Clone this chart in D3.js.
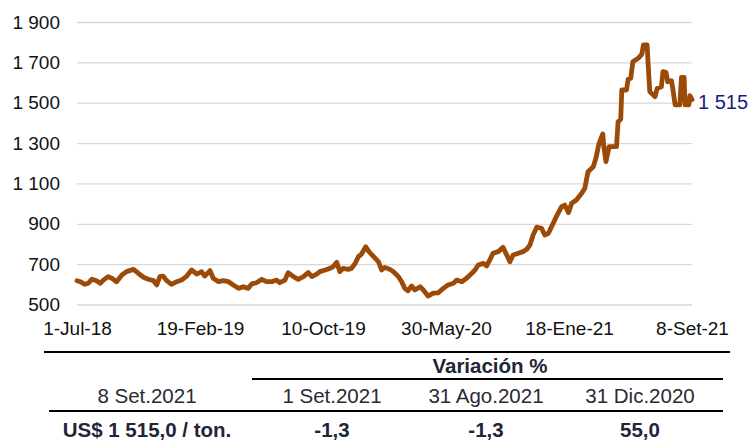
<!DOCTYPE html>
<html>
<head>
<meta charset="utf-8">
<script src="https://cdn.jsdelivr.net/npm/d3@7"></script>
<style>
  body { margin: 0; background: #fff; }
  text { font-family: "Liberation Sans", Arial, sans-serif; }
</style>
</head>
<body>
<div id="chart"></div>
<script>
const width = 755;
const height = 442;
const margin = { top: 22, right: 63, left: 77 };
const plotBottom = 304.5;

// price series (US$ / ton)
const dates = [
  "2018-07-01","2018-07-07","2018-07-16","2018-07-22","2018-07-29","2018-08-07","2018-08-14","2018-08-20",
  "2018-08-29","2018-09-05","2018-09-14","2018-09-24","2018-10-03","2018-10-16","2018-10-25","2018-11-04",
  "2018-11-13","2018-11-23","2018-11-29","2018-12-05","2018-12-11","2018-12-18","2018-12-27","2019-01-06",
  "2019-01-15","2019-01-25","2019-02-03","2019-02-13","2019-02-22","2019-02-28","2019-03-10","2019-03-16",
  "2019-03-26","2019-04-04","2019-04-14","2019-04-23","2019-05-03","2019-05-12","2019-05-21","2019-05-28",
  "2019-06-06","2019-06-16","2019-06-25","2019-07-05","2019-07-14","2019-07-20","2019-07-30","2019-08-05",
  "2019-08-15","2019-08-24","2019-09-03","2019-09-12","2019-09-19","2019-09-28","2019-10-04","2019-10-14",
  "2019-10-23","2019-10-29","2019-11-05","2019-11-11","2019-11-17","2019-11-27","2019-12-03","2019-12-10",
  "2019-12-16","2019-12-22","2019-12-30","2020-01-05","2020-01-13","2020-01-23","2020-01-29","2020-02-04",
  "2020-02-14","2020-02-20","2020-03-01","2020-03-07","2020-03-13","2020-03-19","2020-03-26","2020-04-01",
  "2020-04-11","2020-04-17","2020-04-26","2020-05-06","2020-05-15","2020-05-25","2020-06-03","2020-06-13",
  "2020-06-19","2020-06-29","2020-07-08","2020-07-18","2020-07-24","2020-07-30","2020-08-09","2020-08-15",
  "2020-08-21","2020-08-27","2020-09-06","2020-09-15","2020-09-22","2020-09-28","2020-10-04","2020-10-14",
  "2020-10-23","2020-10-30","2020-11-05","2020-11-11","2020-11-18","2020-11-27","2020-12-03","2020-12-10",
  "2020-12-16","2020-12-22","2020-12-29","2021-01-04","2021-01-10","2021-01-17","2021-01-23","2021-02-01",
  "2021-02-11","2021-02-17","2021-02-23","2021-03-05","2021-03-10","2021-03-16","2021-03-23","2021-03-25",
  "2021-03-29","2021-04-04","2021-04-18","2021-04-21","2021-04-26","2021-04-28","2021-05-07","2021-05-10",
  "2021-05-15","2021-05-19","2021-05-29","2021-06-05","2021-06-08","2021-06-15","2021-06-17","2021-06-20",
  "2021-06-30","2021-07-04","2021-07-12","2021-07-15","2021-07-21","2021-07-24","2021-07-31","2021-08-03",
  "2021-08-07","2021-08-16","2021-08-19","2021-08-24","2021-08-26","2021-09-02","2021-09-04","2021-09-08"
];
const prices = [
  618,613,600,605,625,618,605,621,
  638,630,613,646,663,674,655,635,
  625,618,597,638,641,618,600,613,
  621,641,671,651,663,641,668,630,
  613,618,613,597,580,588,580,602,
  608,625,613,613,621,608,621,658,
  638,625,638,658,638,650,663,671,
  679,687,709,663,679,674,679,704,
  737,750,786,762,740,712,671,684,
  674,663,638,613,580,568,592,572,
  588,572,542,556,558,580,597,605,
  621,613,630,655,671,696,704,691,
  721,754,762,783,745,712,745,754,
  762,774,795,844,883,878,844,853,
  886,919,955,985,993,955,1002,1018,
  1051,1076,1158,1183,1225,1299,1345,1282,
  1208,1282,1282,1406,1418,1563,1563,1616,
  1621,1703,1720,1741,1786,1786,1687,1555,
  1530,1571,1579,1654,1649,1604,1609,1563,
  1489,1489,1626,1626,1489,1489,1535,1515
];

const yTicks = [500, 700, 900, 1100, 1300, 1500, 1700, 1900];
const xTickDates = ["2018-07-01","2019-02-19","2019-10-10","2020-05-30","2021-01-18","2021-09-08"];
const xTickLabels = ["1-Jul-18","19-Feb-19","10-Oct-19","30-May-20","18-Ene-21","8-Set-21"];

// table under the chart
const tableHeader = "Variación %";
const tableCols = ["8 Set.2021", "1 Set.2021", "31 Ago.2021", "31 Dic.2020"];
const tableVals = ["US$ 1 515,0 / ton.", "-1,3", "-1,3", "55,0"];

const parseDate = d3.timeParse("%Y-%m-%d");
const series = dates.map((d, i) => ({ date: parseDate(d), value: prices[i] }));
const locale = d3.formatLocale({ decimal: ",", thousands: " ", grouping: [3], currency: ["", ""] });
const fmt = locale.format(",");

const svg = d3.select("#chart")
  .append("svg")
  .attr("width", width)
  .attr("height", height);

svg.append("rect").attr("width", width).attr("height", height).attr("fill", "#fff");

const x = d3.scaleTime()
  .domain([parseDate(xTickDates[0]), parseDate(xTickDates[xTickDates.length - 1])])
  .range([margin.left, width - margin.right]);

const y = d3.scaleLinear()
  .domain([500, 1900])
  .range([plotBottom, margin.top]);

// y axis + gridlines
const yAxis = svg.append("g")
  .attr("transform", "translate(" + margin.left + ",0)")
  .call(d3.axisLeft(y).tickValues(yTicks).tickFormat(fmt)
    .tickSizeInner(-(width - margin.right - margin.left)).tickSizeOuter(0).tickPadding(17));
yAxis.select(".domain").remove();
yAxis.selectAll("line").attr("stroke", "#d9d9d9").attr("stroke-width", 1.3);
yAxis.selectAll("text").attr("fill", "#111").style("font-size", "19px");

// x axis labels
const xAxis = svg.append("g")
  .attr("transform", "translate(0," + plotBottom + ")")
  .call(d3.axisBottom(x).tickValues(xTickDates.map(parseDate))
    .tickFormat((d, i) => xTickLabels[i]).tickSize(0).tickPadding(17));
xAxis.select(".domain").remove();
xAxis.selectAll("text").attr("fill", "#111").style("font-size", "19px");

// price line
const line = d3.line().x((d) => x(d.date)).y((d) => y(d.value));
svg.append("path")
  .datum(series)
  .attr("d", line)
  .attr("fill", "none")
  .attr("stroke", "#9c4a08")
  .attr("stroke-width", 4.8)
  .attr("stroke-linejoin", "round")
  .attr("stroke-linecap", "round");

const last = series[series.length - 1];
svg.append("text")
  .attr("x", x(last.date) + 6)
  .attr("y", y(last.value) + 2)
  .attr("dy", "0.35em")
  .attr("fill", "#1a1a80")
  .style("font-size", "20px")
  .text(fmt(last.value));

// ------- table -------
const colX = [147, 332, 486, 640];
const table = svg.append("g");
const rule = (x1, x2, yy) => table.append("line")
  .attr("x1", x1).attr("x2", x2).attr("y1", yy).attr("y2", yy)
  .attr("stroke", "#000").attr("stroke-width", 2);
rule(44, 730, 352);
rule(252, 723, 379);
rule(49, 723, 411);

table.append("text")
  .attr("x", 490).attr("y", 373)
  .attr("text-anchor", "middle")
  .attr("fill", "#1f2638")
  .style("font-size", "20.5px").style("font-weight", "bold")
  .text(tableHeader);

table.selectAll(".col").data(tableCols).enter()
  .append("text")
  .attr("x", (d, i) => colX[i]).attr("y", 403)
  .attr("text-anchor", "middle")
  .attr("fill", "#2a2a36")
  .style("font-size", "20.5px")
  .text((d) => d);

table.selectAll(".val").data(tableVals).enter()
  .append("text")
  .attr("x", (d, i) => colX[i]).attr("y", 437)
  .attr("text-anchor", "middle")
  .attr("fill", "#1f2638")
  .style("font-size", "20.5px").style("font-weight", "bold")
  .text((d) => d);
</script>
</body>
</html>
